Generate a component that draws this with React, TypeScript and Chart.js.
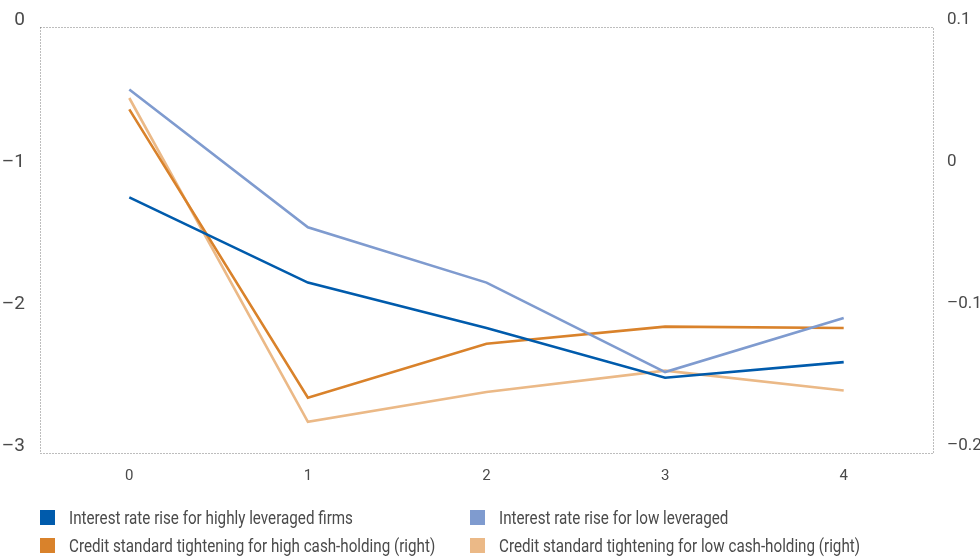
import React, { useEffect, useRef } from "react";
import { Chart, registerables } from "chart.js";

Chart.register(...registerables);

const categories = ["0", "1", "2", "3", "4"];
const highLeveraged = [-1.2, -1.8, -2.12, -2.47, -2.36];
const lowLeveraged = [-0.44, -1.41, -1.8, -2.43, -2.05];
const highCash = [0.042, -0.161, -0.123, -0.111, -0.112];
const lowCash = [0.05, -0.178, -0.157, -0.142, -0.156];

const seriesNames = [
  "Interest rate rise for highly leveraged firms",
  "Interest rate rise for low leveraged",
  "Credit standard tightening for high cash-holding (right)",
  "Credit standard tightening for low cash-holding (right)",
];
const seriesColors = ["#005BAC", "#7F9BCF", "#D9822B", "#EBB987"];

const FONT = "Roboto, 'Noto Sans', sans-serif";
const TEXT = "#4a4a4a";

const borderPlugin = {
  id: "dottedBorder",
  afterDraw(chart: any) {
    const { ctx, chartArea } = chart;
    ctx.save();
    ctx.strokeStyle = "#7a7a7a";
    ctx.lineWidth = 1;
    ctx.setLineDash([1, 2]);
    ctx.strokeRect(
      Math.round(chartArea.left) + 0.5,
      Math.round(chartArea.top) + 0.5,
      Math.round(chartArea.right - chartArea.left),
      Math.round(chartArea.bottom - chartArea.top)
    );
    ctx.restore();
  },
};

export default function App() {
  const ref = useRef<HTMLCanvasElement>(null);
  useEffect(() => {
    document.body.style.margin = "0";
    const data = [highLeveraged, lowLeveraged, highCash, lowCash];
    const chart = new Chart(ref.current!, {
      type: "line",
      data: {
        labels: categories,
        datasets: data.map((d, i) => ({
          label: seriesNames[i],
          data: d,
          borderColor: seriesColors[i],
          backgroundColor: seriesColors[i],
          borderWidth: 2.6,
          pointRadius: 0,
          tension: 0,
          yAxisID: i < 2 ? "y" : "y1",
        })),
      },
      options: {
        animation: false,
        responsive: false,
        maintainAspectRatio: false,
        layout: { padding: { top: 27, left: 0, right: 0, bottom: 0 } },
        plugins: { legend: { display: false }, tooltip: { enabled: false } },
        scales: {
          x: {
            offset: true,
            grid: { display: false, drawTicks: false },
            border: { display: false },
            ticks: { color: TEXT, padding: 14, font: { family: FONT, size: 15 } },
            afterFit: (s: any) => { s.height = 106; },
          },
          y: {
            position: "left",
            min: -3,
            max: 0,
            grid: { display: false, drawTicks: false },
            border: { display: false },
            ticks: {
              stepSize: 1,
              color: TEXT,
              padding: 15,
              labelOffset: -7,
              font: { family: FONT, size: 19 },
              callback: (v: any) => String(v).replace("-", "\u2013"),
            },
            afterFit: (s: any) => { s.width = 40; },
          },
          y1: {
            position: "right",
            min: -0.2,
            max: 0.1,
            grid: { display: false, drawTicks: false },
            border: { display: false },
            ticks: {
              stepSize: 0.1,
              color: TEXT,
              padding: 14,
              labelOffset: -7,
              font: { family: FONT, size: 17 },
              callback: (v: any) => String(Math.round(Number(v) * 10) / 10).replace("-", "\u2013"),
            },
            afterFit: (s: any) => { s.width = 47; },
          },
        },
      },
      plugins: [borderPlugin],
    });
    return () => chart.destroy();
  }, []);

  const legendPos = [
    { left: 40, top: 510 },
    { left: 470, top: 510 },
    { left: 40, top: 538 },
    { left: 470, top: 538 },
  ];

  return (
    <div style={{ position: "relative", width: 980, height: 559, background: "#fff", overflow: "hidden" }}>
      <canvas ref={ref} width={980} height={559} style={{ position: "absolute", left: 0, top: 0 }} />
      {seriesNames.map((n, i) => (
        <div
          key={n}
          style={{
            position: "absolute",
            left: legendPos[i].left,
            top: legendPos[i].top,
            display: "flex",
            alignItems: "center",
            height: 15,
            fontFamily: FONT,
            fontSize: 19,
            color: TEXT,
            whiteSpace: "nowrap",
          }}
        >
          <span style={{ width: 15, height: 15, background: seriesColors[i], display: "inline-block", marginRight: 14, flex: "none" }} />
          <span style={{ display: "inline-block", transform: "scaleX(0.8)", transformOrigin: "left center" }}>{n}</span>
        </div>
      ))}
    </div>
  );
}
